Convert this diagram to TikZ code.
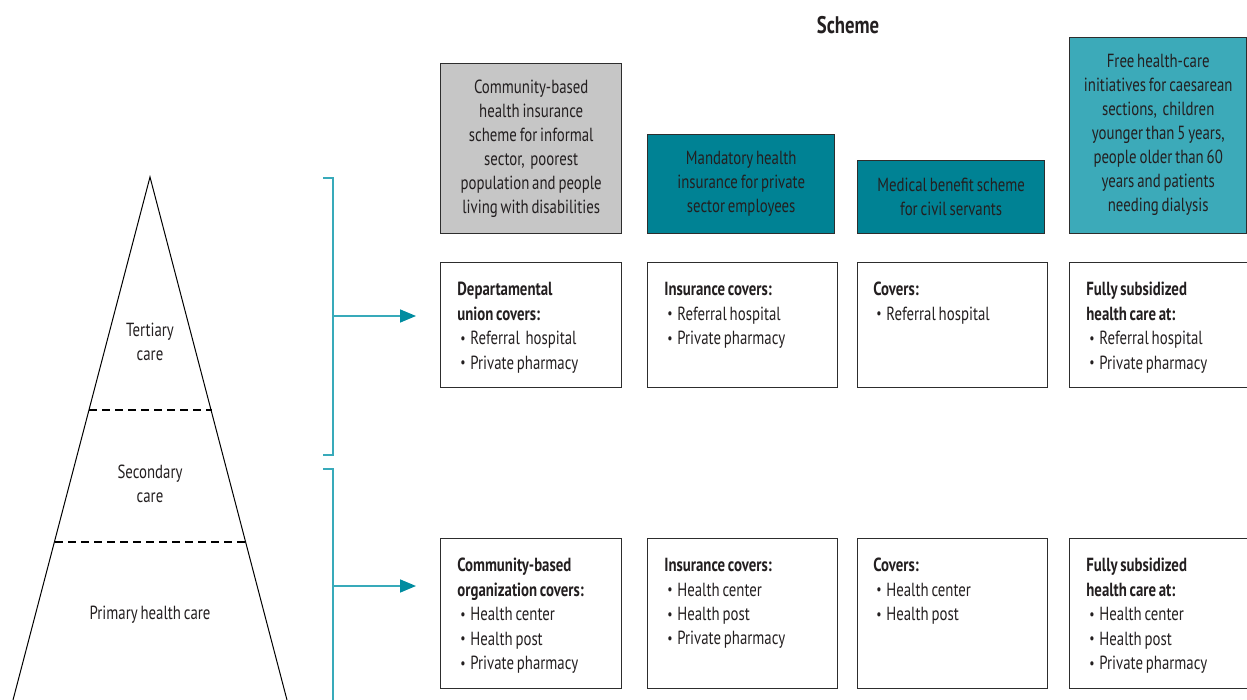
\documentclass[tikz,border=0pt]{standalone}
\usepackage{fontspec}
\setmainfont{PT Sans}[FakeStretch=0.78,WordSpace=0.72]
\usetikzlibrary{arrows.meta}
\usetikzlibrary{positioning}

\definecolor{boxline}{RGB}{45,45,45}
\definecolor{schgray}{RGB}{198,198,198}
\definecolor{schteal}{RGB}{0,130,148}
\definecolor{schlight}{RGB}{60,170,185}
\definecolor{brk}{RGB}{56,170,186}
\definecolor{brktip}{RGB}{0,140,160}
\definecolor{ink}{RGB}{35,31,32}

\newcommand{\itm}[1]{\hspace*{1.5pt}\makebox[5pt][l]{\raisebox{0.15ex}{\fontsize{7.5}{7.5}\selectfont\textbullet}}#1}

\begin{document}
\begin{tikzpicture}[
    x=0.5pt,y=-0.5pt,
    every node/.style={text=ink,font=\fontsize{9.5}{12.2}\selectfont},
    scheme/.style={draw=boxline,line width=0.7pt,anchor=south west,align=center,inner sep=0pt,
      font=\fontsize{9.5}{12}\selectfont},
    cover/.style={draw=boxline,line width=0.7pt,anchor=north west,inner sep=0pt},
    covtext/.style={anchor=north west,align=left,inner sep=0pt},
    tier/.style={align=center},
    tierline/.style={line width=1pt,dash pattern=on 4pt off 2.5pt},
    brace/.style={draw=brk,line width=0.8pt},
    feed/.style={draw=brk,line width=0.8pt,-{Triangle[length=8pt,width=6.5pt,color=brktip]}}
    ]
    \useasboundingbox (0,0) rectangle (1247,700);
    % title
    \node[font=\bfseries\fontsize{12}{14}\selectfont] (title) at (848,25) {Scheme};
    %
    % schemes
    \node[scheme,fill=schgray,minimum width=90.5pt,minimum height=85pt] (sch1) at (440,234)
      {Community-based\\health insurance\\scheme for informal\\sector,\ \ poorest\\population and people\\living with disabilities};
    \node[scheme,fill=schteal,minimum width=93.5pt,minimum height=49.5pt] (sch2) at (647,234)
      {Mandatory health\\insurance for private\\sector employees};
    \node[scheme,fill=schteal,minimum width=93.5pt,minimum height=36.5pt] (sch3) at (857,234)
      {Medical benefit scheme\\for civil servants};
    \node[scheme,fill=schlight,minimum width=88.5pt,minimum height=98pt] (sch4) at (1069,234)
      {Free health-care\\initiatives for caesarean\\sections,\ \ children\\younger than 5 years,\\people older than 60\\years and patients\\needing dialysis};
    %
    % tertiary / secondary level
    \node[cover,minimum width=90.5pt,minimum height=62.5pt] (ter1) at (440,262) {};
    \node[cover,minimum width=95pt,minimum height=62.5pt] (ter2) at (647,262) {};
    \node[cover,minimum width=95pt,minimum height=62.5pt] (ter3) at (857,262) {};
    \node[cover,minimum width=95pt,minimum height=62.5pt] (ter4) at (1069,262) {};
    \node[covtext,below right=10pt and 8.5pt of ter1.north west] (ter1t)
      {\textbf{Departamental}\\\textbf{union covers:}\\\itm{Referral\ \ hospital}\\\itm{Private pharmacy}};
    \node[covtext,below right=10pt and 8.5pt of ter2.north west] (ter2t)
      {\textbf{Insurance covers:}\\\itm{Referral hospital}\\\itm{Private pharmacy}};
    \node[covtext,below right=10pt and 8pt of ter3.north west] (ter3t)
      {\textbf{Covers:}\\\itm{Referral hospital}};
    \node[covtext,below right=10pt and 8.5pt of ter4.north west] (ter4t)
      {\textbf{Fully subsidized}\\\textbf{health care at:}\\\itm{Referral hospital}\\\itm{Private pharmacy}};
    %
    % primary level
    \node[cover,minimum width=90.5pt,minimum height=75pt] (pri1) at (440,538) {};
    \node[cover,minimum width=95pt,minimum height=75pt] (pri2) at (647,538) {};
    \node[cover,minimum width=95pt,minimum height=75pt] (pri3) at (857,538) {};
    \node[cover,minimum width=95pt,minimum height=75pt] (pri4) at (1069,538) {};
    \node[covtext,below right=10pt and 8.5pt of pri1.north west] (pri1t)
      {\textbf{Community-based}\\\textbf{organization covers:}\\\itm{Health center}\\\itm{Health post}\\\itm{Private pharmacy}};
    \node[covtext,below right=10pt and 8.5pt of pri2.north west] (pri2t)
      {\textbf{Insurance covers:}\\\itm{Health center}\\\itm{Health post}\\\itm{Private pharmacy}};
    \node[covtext,below right=10pt and 8pt of pri3.north west] (pri3t)
      {\textbf{Covers:}\\\itm{Health center}\\\itm{Health post}};
    \node[covtext,below right=10pt and 8.5pt of pri4.north west] (pri4t)
      {\textbf{Fully subsidized}\\\textbf{health care at:}\\\itm{Health center}\\\itm{Health post}\\\itm{Private pharmacy}};
    %
    % pyramid
    \coordinate (apex) at (150,177);
    \coordinate (baseL) at (13,700);
    \coordinate (baseR) at (287,700);
    \draw[line width=0.5pt] (baseL) -- (apex) -- (baseR);
    \draw[tierline] (89,410) -- (212,410);
    \draw[tierline] (55,542) -- (246,542);
    \node[tier] (tert) at (150,342) {Tertiary\\care};
    \node[tier] (seco) at (150,484) {Secondary\\care};
    \node (prim) at (150,615) {Primary health care};
    %
    % brackets and arrows
    \draw[brace] (323,178) -- (333,178) -- (333,455) -- (323,455);
    \draw[brace] (323,469) -- (333,469) -- (333,705);
    \coordinate (tfrom) at (333,316);
    \coordinate (tto) at (416,316);
    \coordinate (pfrom) at (333,586);
    \coordinate (pto) at (416,586);
    \draw[feed] (tfrom) -- (tto);
    \draw[feed] (pfrom) -- (pto);
\end{tikzpicture}
\end{document}
